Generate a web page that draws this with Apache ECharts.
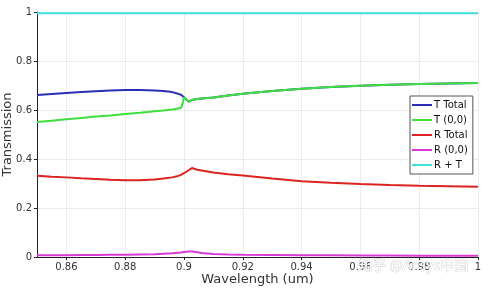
<!DOCTYPE html>
<html>
<head>
<meta charset="utf-8">
<script src="https://cdn.jsdelivr.net/npm/echarts@6/dist/echarts.min.js"></script>
<style>html,body{margin:0;padding:0;background:#fff}#c{width:488px;height:288px}</style>
</head>
<body>
<div id="c"></div>
<script>
const wavelength = [0.85, 0.855, 0.86, 0.865, 0.87, 0.875, 0.88, 0.885, 0.89, 0.893, 0.896, 0.898, 0.899, 0.8995, 0.9, 0.9008, 0.9017, 0.9027, 0.9033, 0.9045, 0.906, 0.91, 0.915, 0.92, 0.93, 0.94, 0.95, 0.96, 0.97, 0.98, 0.99, 1.0];
const tTotal = [0.661, 0.665, 0.669, 0.673, 0.677, 0.680, 0.682, 0.682, 0.680, 0.678, 0.673, 0.666, 0.662, 0.658, 0.652, 0.643, 0.634, 0.641, 0.643, 0.645, 0.647, 0.651, 0.659, 0.666, 0.678, 0.687, 0.694, 0.699, 0.703, 0.706, 0.708, 0.710];
const t00 = [0.551, 0.556, 0.562, 0.567, 0.573, 0.578, 0.584, 0.589, 0.595, 0.598, 0.602, 0.606, 0.609, 0.625, 0.652, 0.643, 0.634, 0.641, 0.643, 0.645, 0.647, 0.651, 0.659, 0.666, 0.678, 0.687, 0.694, 0.699, 0.703, 0.706, 0.708, 0.710];
const rTotal = [0.332, 0.328, 0.325, 0.321, 0.318, 0.315, 0.313, 0.313, 0.316, 0.320, 0.325, 0.331, 0.335, 0.338, 0.342, 0.348, 0.355, 0.363, 0.366, 0.356, 0.353, 0.345, 0.338, 0.333, 0.320, 0.309, 0.303, 0.298, 0.294, 0.291, 0.289, 0.287];
const r00 = [0.007, 0.007, 0.007, 0.008, 0.008, 0.009, 0.009, 0.010, 0.011, 0.013, 0.015, 0.017, 0.018, 0.019, 0.020, 0.021, 0.022, 0.022, 0.021, 0.019, 0.016, 0.012, 0.010, 0.009, 0.008, 0.007, 0.007, 0.006, 0.006, 0.005, 0.005, 0.005];
const rPlusT = [0.995, 0.995, 0.995, 0.995, 0.995, 0.995, 0.995, 0.995, 0.995, 0.995, 0.995, 0.995, 0.995, 0.995, 0.995, 0.995, 0.995, 0.995, 0.995, 0.995, 0.995, 0.995, 0.995, 0.995, 0.995, 0.995, 0.995, 0.995, 0.995, 0.995, 0.995, 0.995];
const xTicks = [0.86, 0.88, 0.9, 0.92, 0.94, 0.96, 0.98, 1];
const seriesNames = ['T Total', 'T (0,0)', 'R Total', 'R (0,0)', 'R + T'];
const seriesColors = ['#2a2fb5', '#3ee03e', '#dd2222', '#d83ad8', '#3fe0e0'];
const seriesValues = [tTotal, t00, rTotal, r00, rPlusT];

const font = 'DejaVu Sans';
const chart = echarts.init(document.getElementById('c'));
chart.setOption({
  animation: false,
  textStyle: { fontFamily: font },
  grid: { left: 37, right: 10, top: 12, bottom: 31, containLabel: false, outerBoundsMode: 'none' },
  xAxis: {
    type: 'value', min: 0.85, max: 1.0,
    name: 'Wavelength (um)', nameLocation: 'middle', nameGap: 16, nameMoveOverlap: false,
    nameTextStyle: { fontSize: 13, color: '#333', fontFamily: font },
    axisLine: { show: true, onZero: false, lineStyle: { color: '#222', width: 1 } },
    axisTick: { show: true, length: 3, customValues: xTicks, lineStyle: { color: '#222' } },
    axisLabel: { customValues: xTicks, fontSize: 10, color: '#333', margin: 5, fontFamily: font },
    splitLine: { show: true, lineStyle: { color: '#ececec', width: 1 } }
  },
  yAxis: {
    type: 'value', min: 0, max: 1, interval: 0.2,
    name: 'Transmission', nameLocation: 'middle', nameGap: 23, nameMoveOverlap: false,
    nameTextStyle: { fontSize: 13, color: '#333', fontFamily: font },
    axisLine: { show: true, lineStyle: { color: '#222', width: 1 } },
    axisTick: { show: true, length: 3, lineStyle: { color: '#222' } },
    axisLabel: { fontSize: 10, color: '#333', margin: 5, fontFamily: font },
    splitLine: { show: true, lineStyle: { color: '#ececec', width: 1 } }
  },
  legend: {
    orient: 'vertical', left: 410, top: 96,
    data: seriesNames,
    icon: 'rect',
    itemWidth: 20, itemHeight: 2, itemGap: 3,
    padding: [3, 5, 3, 2],
    backgroundColor: '#fff', borderColor: '#555', borderWidth: 1,
    textStyle: { fontSize: 10, lineHeight: 12, color: '#111', fontFamily: font, padding: [0, 0, 0, -3] }
  },
  series: seriesNames.map((n, i) => ({
    name: n, type: 'line', showSymbol: false, symbol: 'none',
    data: wavelength.map((w, k) => [w, seriesValues[i][k]]),
    lineStyle: { color: seriesColors[i], width: 2 },
    itemStyle: { color: seriesColors[i] },
    z: 2 + i
  })),
  graphic: [{
    type: 'text', left: 358, top: 257, z: 100,
    style: {
      text: '知乎 @Ansys中国',
      font: '14px "Noto Sans CJK SC"',
      fill: 'rgba(255,255,255,0.9)',
      stroke: 'rgba(170,170,170,0.6)', lineWidth: 0.7
    }
  }]
});
</script>
</body>
</html>
